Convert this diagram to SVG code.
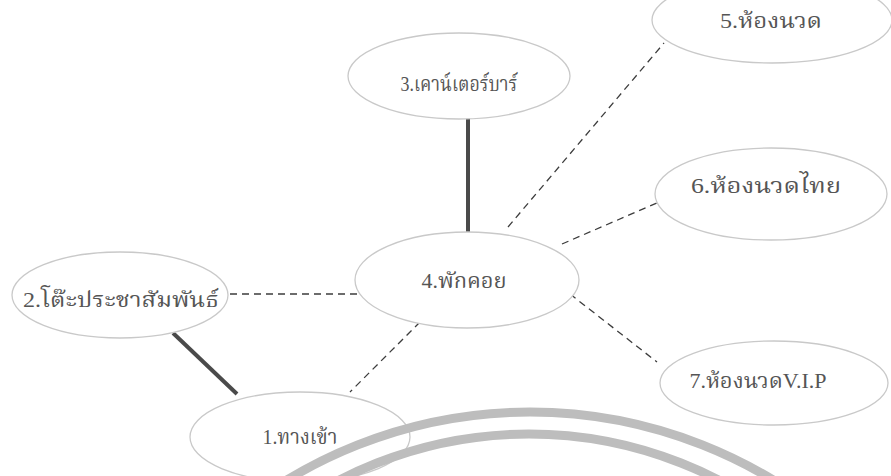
<svg xmlns="http://www.w3.org/2000/svg" width="891" height="476" viewBox="0 0 891 476">
<style>
.node ellipse{fill:#fff;stroke:#c9c9c9;stroke-width:1.3}
.node text{font-family:"Liberation Serif","Noto Serif Thai","Noto Sans Thai","DejaVu Serif",serif;font-size:21px;fill:#555;text-anchor:middle}
.dash{stroke:#3c3c3c;stroke-width:1.3;stroke-dasharray:7 5;fill:none}
.solid{stroke:#4a4a4a;stroke-width:4;fill:none}
.wm{fill:none;stroke:#bdbdbd;stroke-width:9}
</style>
<rect width="891" height="476" fill="#fff"/>
<g id="connectors">
<line class="dash" x1="230" y1="294" x2="357" y2="294"/>
<line class="dash" x1="508" y1="227" x2="664" y2="43"/>
<line class="dash" x1="562" y1="244" x2="657" y2="203"/>
<line class="dash" x1="570" y1="294" x2="657" y2="362"/>
<line class="dash" x1="420" y1="322" x2="350" y2="392"/>
<line class="solid" x1="468" y1="118" x2="468" y2="232"/>
<line class="solid" x1="173" y1="333" x2="237" y2="394"/>
</g>
<g id="n1" class="node"><ellipse cx="300" cy="437" rx="110" ry="45"/><text x="300" y="444" textLength="75" lengthAdjust="spacingAndGlyphs">1.ทางเข้า</text></g>
<g id="n2" class="node"><ellipse cx="120" cy="295" rx="108" ry="43"/><text x="121" y="307" textLength="196" lengthAdjust="spacingAndGlyphs">2.โต๊ะประชาสัมพันธ์</text></g>
<g id="n3" class="node"><ellipse cx="459" cy="76" rx="111" ry="43"/><text x="459" y="91" textLength="117" lengthAdjust="spacingAndGlyphs">3.เคาน์เตอร์บาร์</text></g>
<g id="n4" class="node"><ellipse cx="467" cy="280" rx="112" ry="48"/><text x="464" y="288" textLength="85" lengthAdjust="spacingAndGlyphs">4.พักคอย</text></g>
<g id="n5" class="node"><ellipse cx="772" cy="20" rx="120" ry="43"/><text x="771" y="28" textLength="102" lengthAdjust="spacingAndGlyphs">5.ห้องนวด</text></g>
<g id="n6" class="node"><ellipse cx="771" cy="194" rx="116" ry="46"/><text x="766" y="193" textLength="150" lengthAdjust="spacingAndGlyphs">6.ห้องนวดไทย</text></g>
<g id="n7" class="node"><ellipse cx="774" cy="383" rx="114" ry="42"/><text x="758" y="388" textLength="137" lengthAdjust="spacingAndGlyphs">7.ห้องนวดV.I.P</text></g>
<g id="watermark">
<circle class="wm" cx="530" cy="880" r="468"/>
<circle class="wm" cx="529" cy="847" r="413"/>
</g>
</svg>
